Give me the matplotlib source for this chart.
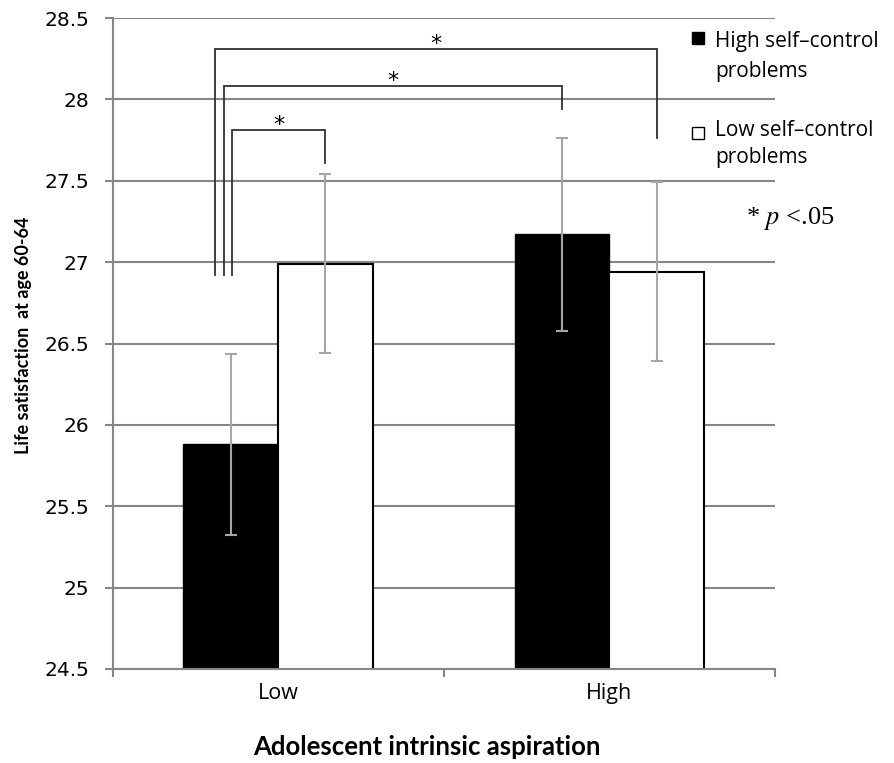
import matplotlib
matplotlib.use('Agg')
import matplotlib.pyplot as plt
from matplotlib.patches import Rectangle
import numpy as np

# ---- data ----
categories = ['Low', 'High']
high_sc = [25.88, 27.17]          # High self-control problems
low_sc = [26.99, 26.94]           # Low self-control problems
high_sc_err = [0.555, 0.595]
low_sc_err = [0.55, 0.55]
series_labels = ['High self\u2013control\nproblems', 'Low self\u2013control\nproblems']
yticks = [24.5, 25, 25.5, 26, 26.5, 27, 27.5, 28, 28.5]
ytick_labels = ['24.5', '25', '25.5', '26', '26.5', '27', '27.5', '28', '28.5']

# significance brackets: (left offset from 'Low' centre, top, right category, right series, right leg bottom)
brackets = [
    (-0.191, 28.31, 1, 1, 27.76),
    (-0.1625, 28.085, 1, 0, 27.94),
    (-0.138, 27.813, 0, 1, 27.612),
]
bracket_left_bottom = 26.92

plt.rcParams['mathtext.fontset'] = 'stix'

W, H = 894, 763
fig = plt.figure(figsize=(W / 100, H / 100), dpi=100)
ax = fig.add_axes([112.5 / W, 1 - 669 / H, 662.5 / W, 651 / H])

x = np.arange(len(categories))
bw = 1 / 3.5
offs = [-bw / 2, bw / 2]
gray = '#868686'
errc = '#A6A6A6'

ax.bar(x + offs[0], high_sc, bw, color='black', edgecolor='black', lw=1.0, zorder=3)
ax.bar(x + offs[1], low_sc, bw, color='white', edgecolor='black', lw=1.5, zorder=3)
ax.errorbar(x + offs[0], high_sc, yerr=high_sc_err, fmt='none', ecolor=errc,
            elinewidth=1.5, capsize=4.5, capthick=1.5, zorder=4)
ax.errorbar(x + offs[1], low_sc, yerr=low_sc_err, fmt='none', ecolor=errc,
            elinewidth=1.5, capsize=4.5, capthick=1.5, zorder=4)

ax.set_xlim(-0.5, 1.5)
ax.set_ylim(24.5, 28.5)
ax.set_yticks(yticks)
ax.set_yticklabels(ytick_labels, fontsize=14.5, family='DejaVu Sans')
ax.yaxis.grid(True, color=gray, lw=1.5, zorder=0)
ax.set_axisbelow(True)

ax.set_xticks(x)
ax.set_xticklabels(categories, fontsize=15.5, family='Open Sans')
ax.set_xticks([-0.5, 0.5, 1.5], minor=True)
ax.tick_params(axis='x', which='major', length=0, pad=10)
ax.tick_params(axis='x', which='minor', length=6, color=gray, width=1.5, direction='out')
ax.tick_params(axis='y', length=5.5, color=gray, width=1.5, direction='out', pad=11)

for s in ['top', 'right']:
    ax.spines[s].set_visible(False)
for s in ['left', 'bottom']:
    ax.spines[s].set_color(gray)
    ax.spines[s].set_linewidth(1.5)
ax.spines['bottom'].set_zorder(5)

# brackets
for lo, top, rc, rs, rb in brackets:
    xl = x[0] + lo
    xr = x[rc] + offs[rs]
    ax.plot([xl, xl, xr, xr], [bracket_left_bottom, top, top, rb], color='#303030',
            lw=1.3, zorder=6, clip_on=False, solid_joinstyle='miter')
    ax.annotate('*', xy=((xl + xr) / 2, top), xytext=(0, -1), textcoords='offset points',
                ha='center', va='baseline', fontsize=16, family='DejaVu Sans', zorder=7)

# axis titles
fig.text(24 / W, 1 - 335 / H, 'Life satisfaction  at age 60-64', rotation=90,
         ha='center', va='center', fontsize=13, fontweight='bold', family='Lato')
fig.text(427 / W, 1 - 747 / H, 'Adolescent intrinsic aspiration', ha='center', va='center',
         fontsize=18.5, fontweight='bold', family='Lato')

# legend (drawn manually to match layout)
legend_rows = [(42, 71), (131, 158)]
sq_tops = [32, 127]
fills = ['black', 'white']
for lab, (y1, y2), st, fc in zip(series_labels, legend_rows, sq_tops, fills):
    fig.patches.append(Rectangle((692 / W, 1 - (st + 12) / H), 12 / W, 12 / H,
                                 transform=fig.transFigure, facecolor=fc,
                                 edgecolor='black', lw=1.0))
    l1, l2 = lab.split('\n')
    fig.text(715 / W, 1 - y1 / H, l1, ha='left', va='center', fontsize=15, family='Open Sans')
    fig.text(715 / W, 1 - y2 / H, l2, ha='left', va='center', fontsize=15, family='Open Sans')

fig.text(790 / W, 1 - 218 / H, r'* $p$ <.05', ha='center', va='center', fontsize=19,
         family='Liberation Serif')

fig.savefig('out.png', dpi=100)
